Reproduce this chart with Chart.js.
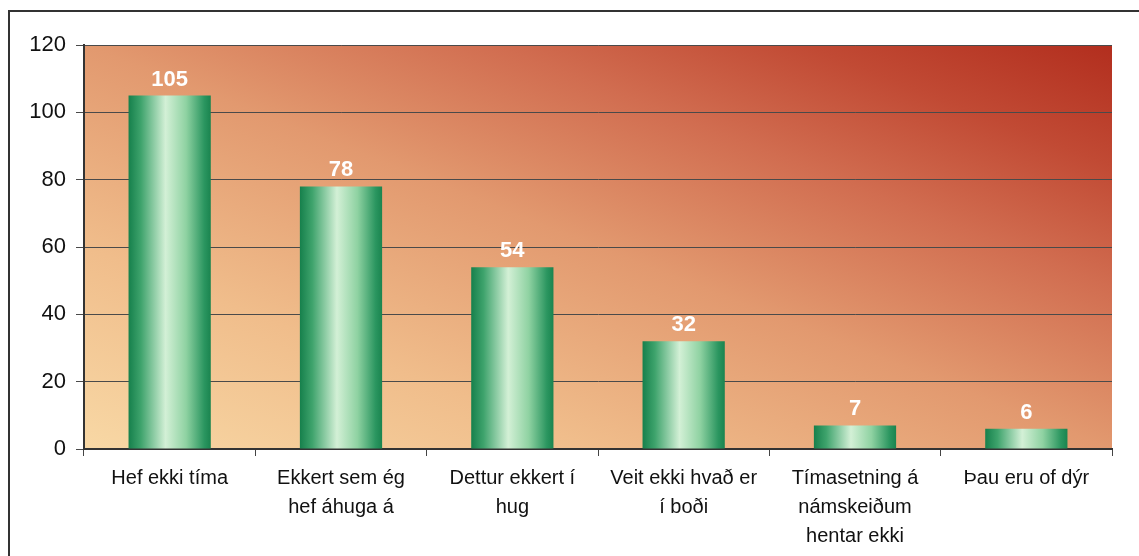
<!DOCTYPE html>
<html>
<head>
<meta charset="utf-8">
<script src="https://cdn.jsdelivr.net/npm/chart.js@4/dist/chart.umd.min.js"></script>
<style>
  html, body { margin: 0; padding: 0; background: #fff; }
  #wrap { width: 1139px; height: 556px; position: relative; }
</style>
</head>
<body>
<div id="wrap"><canvas id="chart1"></canvas></div>
<script>
// Reasons data
const reasons = [
  ["Hef ekki tíma"],
  ["Ekkert sem ég", "hef áhuga á"],
  ["Dettur ekkert í", "hug"],
  ["Veit ekki hvað er", "í boði"],
  ["Tímasetning á", "námskeiðum", "hentar ekki"],
  ["Þau eru of dýr"],
];
const counts = [105, 78, 54, 32, 7, 6];
const yTicks = [0, 20, 40, 60, 80, 100, 120];

const barPct = 0.48;

// Plot area background + outer frame
const frameAndBg = {
  id: "frameAndBg",
  beforeDraw(chart) {
    const ctx = chart.ctx;
    const a = chart.chartArea;
    ctx.save();
    ctx.strokeStyle = "#333";
    ctx.lineWidth = 2;
    ctx.strokeRect(9, 11, 1140, 600);
    const w = a.right - a.left, h = a.bottom - a.top;
    const k = (2 * w * h) / (w * w + h * h);
    const g = ctx.createLinearGradient(a.left, a.bottom, a.left + k * h, a.bottom - k * w);
    g.addColorStop(0, "#f8d8a5");
    g.addColorStop(0.25, "#f0bd8b");
    g.addColorStop(0.5, "#e2996f");
    g.addColorStop(0.7, "#d16d50");
    g.addColorStop(0.85, "#c14a34");
    g.addColorStop(1, "#b22e1e");
    ctx.fillStyle = g;
    ctx.fillRect(a.left, a.top, w, h);
    ctx.restore();
  },
};

// Value labels above bars
const valueLabels = {
  id: "valueLabels",
  afterDatasetsDraw(chart) {
    const ctx = chart.ctx;
    const meta = chart.getDatasetMeta(0);
    ctx.save();
    ctx.font = "bold 22px 'Liberation Sans', Arial, sans-serif";
    ctx.fillStyle = "#ffffff";
    ctx.textAlign = "center";
    ctx.textBaseline = "bottom";
    meta.data.forEach((bar, i) => {
      ctx.fillText(String(counts[i]), bar.x, bar.y - 5);
    });
    ctx.restore();
  },
};

function barGradient(context) {
  const chart = context.chart;
  const xs = chart.scales.x;
  if (!chart.chartArea || !xs) return "#3a9c68";
  const cx = xs.getPixelForValue(context.dataIndex);
  const half = (xs.width / reasons.length) * barPct / 2;
  const g = chart.ctx.createLinearGradient(cx - half, 0, cx + half, 0);
  g.addColorStop(0, "#16804c");
  g.addColorStop(0.15, "#3ea36c");
  g.addColorStop(0.45, "#d3f0d6");
  g.addColorStop(0.7, "#8fd2a2");
  g.addColorStop(0.92, "#2b9660");
  g.addColorStop(1, "#1a844f");
  return g;
}

const config1 = {
  type: "bar",
  data: {
    labels: reasons,
    datasets: [
      {
        label: "",
        data: counts,
        backgroundColor: barGradient,
        borderWidth: 0,
        categoryPercentage: 1,
        barPercentage: barPct,
      },
    ],
  },
  options: {
    responsive: false,
    animation: false,
    layout: { padding: { left: 0, top: 45, right: 27, bottom: 0 } },
    plugins: {
      legend: { display: false },
      tooltip: { enabled: false },
    },
    scales: {
      x: {
        grid: {
          display: true,
          drawOnChartArea: false,
          drawTicks: true,
          tickLength: 7,
          color: "#444",
          offset: true,
        },
        border: { display: true, color: "#333", width: 2 },
        ticks: {
          color: "#111",
          font: { family: "'Liberation Sans', Arial, sans-serif", size: 20, lineHeight: 1.45 },
          padding: 8,
          maxRotation: 0,
          autoSkip: false,
        },
        afterFit(scale) {
          scale.height = 107;
        },
      },
      y: {
        min: 0,
        max: 120,
        afterBuildTicks(scale) {
          scale.ticks = yTicks.map((v) => ({ value: v }));
        },
        grid: {
          color: "#4a4a4a",
          lineWidth: 1,
          drawTicks: true,
          tickLength: 8,
        },
        border: { display: true, color: "#333", width: 2 },
        ticks: {
          color: "#111",
          font: { family: "'Liberation Sans', Arial, sans-serif", size: 22 },
          padding: 10,
        },
        afterFit(scale) {
          scale.width = 84;
        },
      },
    },
  },
  plugins: [frameAndBg, valueLabels],
};

const canvas = document.getElementById("chart1");
canvas.width = 1139;
canvas.height = 556;
const barChart = new Chart(canvas, config1);
</script>
</body>
</html>
